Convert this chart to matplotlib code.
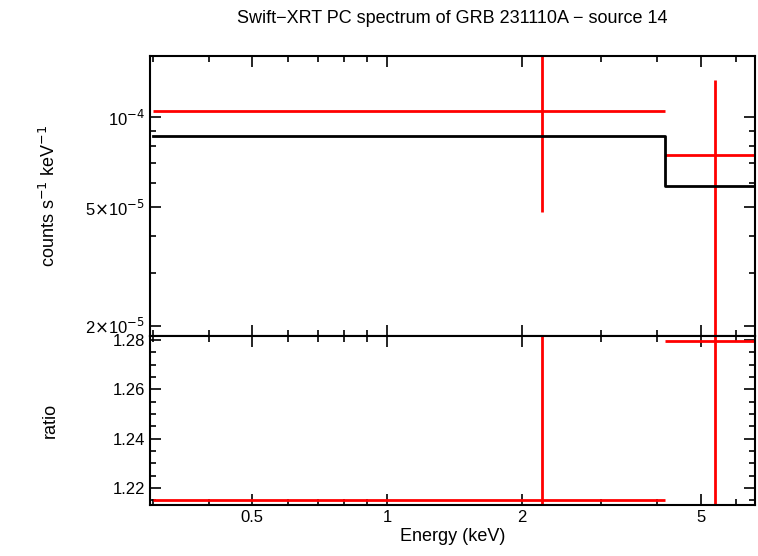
import matplotlib
matplotlib.use("Agg")
import matplotlib.pyplot as plt
from matplotlib.ticker import FixedLocator, NullFormatter
import numpy as np

plt.rcParams["font.family"] = "Liberation Sans"

bin_lo = [0.3, 4.17]
bin_hi = [4.17, 6.7]
x_pt = [2.216, 5.39]
y_pt = [1.047e-4, 7.46e-5]
y_lo = [4.81e-5, 1.0e-5]
y_hi = [2.0e-4, 1.33e-4]
model = [8.64e-5, 5.88e-5]
ratio = [1.2151, 1.2796]
r_lo = [1.0, 1.0]
r_hi = [1.5, 1.5]

W, H = 758, 556
fig = plt.figure(figsize=(W/100, H/100), dpi=100)
L, R = 150/W, 755/W
ax1 = fig.add_axes([L, 1-336/H, R-L, (336-56)/H])
ax2 = fig.add_axes([L, 1-505/H, R-L, (505-336)/H], sharex=ax1)

red = "#ff0000"
for ax in (ax1, ax2):
    ax.set_xscale("log")
    ax.set_xlim(0.296, 6.61)
    for s in ax.spines.values():
        s.set_linewidth(1.5)
    ax.tick_params(which="both", direction="in", top=True, right=True, labelsize=12, width=1.2)
    ax.tick_params(which="major", length=8)
    ax.tick_params(which="minor", length=4)

for i in range(2):
    ax1.hlines(y_pt[i], bin_lo[i], bin_hi[i], color=red, lw=2)
    ax1.vlines(x_pt[i], y_lo[i], y_hi[i], color=red, lw=2)
mx = [bin_lo[0], bin_hi[0], bin_hi[1]]
ax1.step(mx, [model[0], model[1], model[1]], where="post", color="black", lw=2)
ax1.set_yscale("log")
ax1.set_ylim(1.85e-5, 1.6e-4)
ax1.yaxis.set_major_locator(FixedLocator([2e-5, 5e-5, 1e-4]))
ax1.yaxis.set_minor_locator(FixedLocator([3e-5, 4e-5, 6e-5, 7e-5, 8e-5, 9e-5]))
ax1.set_yticklabels([r"2$\times$10$^{-5}$", r"5$\times$10$^{-5}$", r"10$^{-4}$"])
ax1.yaxis.set_minor_formatter(NullFormatter())
ax1.set_ylabel(r"counts s$^{-1}$ keV$^{-1}$", fontsize=13)
plt.setp(ax1.get_xticklabels(), visible=False)
ax1.set_title("Swift\u2212XRT PC spectrum of GRB 231110A \u2212 source 14", fontsize=13, pad=24)

for i in range(2):
    ax2.hlines(ratio[i], bin_lo[i], bin_hi[i], color=red, lw=2)
    ax2.vlines(x_pt[i], r_lo[i], r_hi[i], color=red, lw=2)
ax2.set_ylim(1.2131, 1.2816)
ax2.yaxis.set_major_locator(FixedLocator([1.22, 1.24, 1.26, 1.28]))
ax2.yaxis.set_minor_locator(FixedLocator(np.arange(1.215, 1.2816, 0.005)))
ax2.set_yticklabels(["1.22", "1.24", "1.26", "1.28"])
ax2.set_ylabel("ratio", fontsize=13)
ax2.xaxis.set_major_locator(FixedLocator([0.5, 1, 2, 5]))
ax2.xaxis.set_minor_locator(FixedLocator([0.3, 0.4, 0.6, 0.7, 0.8, 0.9, 3, 4, 6]))
ax2.set_xticklabels(["0.5", "1", "2", "5"])
ax2.xaxis.set_minor_formatter(NullFormatter())
ax2.set_xlabel("Energy (keV)", fontsize=13, labelpad=2)
ax1.yaxis.set_label_coords(-0.15, 0.5)
ax2.yaxis.set_label_coords(-0.15, 0.5)

fig.savefig("out.png", dpi=100)
